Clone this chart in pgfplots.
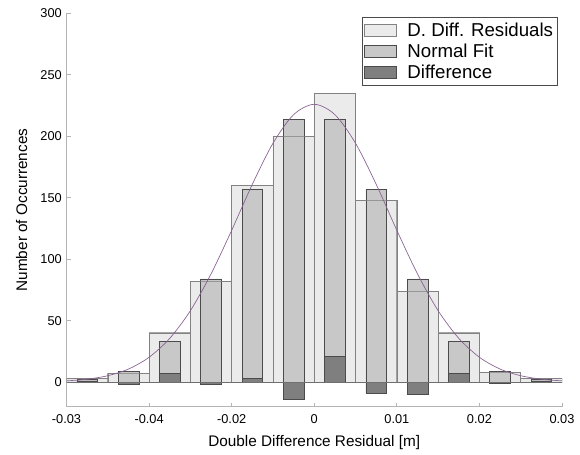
\documentclass[border=0pt]{standalone}
\usepackage{fontspec}
\setmainfont{Liberation Sans}
\usepackage{pgfplots}
\pgfplotsset{compat=1.18}

\definecolor{resfill}{RGB}{235,235,235}
\definecolor{resedge}{RGB}{130,130,130}
\definecolor{fitfill}{RGB}{200,200,200}
\definecolor{fitedge}{RGB}{75,75,75}
\definecolor{difffill}{RGB}{127,127,127}
\definecolor{axisgray}{RGB}{180,180,180}
\definecolor{curvecol}{RGB}{135,95,145}

% bin centres, residual histogram, normal fit and difference
\pgfplotstableread{
x        res  fit  diff
-0.0275  3    2    1
-0.0225  7    9    -2
-0.0175  40   33   7
-0.0125  82   84   -2
-0.0075  160  157  3
-0.0025  200  214  -14
0.0025   235  214  21
0.0075   148  157  -9
0.0125   74   84   -10
0.0175   40   33   7
0.0225   8    9    -1
0.0275   3    2    1
}\hist

\begin{document}
\begin{tikzpicture}
\begin{axis}[
    scale only axis,
    width=371.6pt,
    height=295pt,
    xmin=-0.03, xmax=0.03,
    ymin=-20, ymax=300,
    axis x line*=bottom,
    axis y line*=left,
    axis line style={draw=axisgray, line width=1.1pt, -},
    xtick={-0.03,-0.02,-0.01,0,0.01,0.02,0.03},
    xticklabels={-0.03,-0.04,-0.02,0,0.01,0.02,0.03},
    scaled x ticks=false,
    ytick={0,50,100,150,200,250,300},
    /pgf/number format/assume math mode=true,
    tick align=inside,
    major tick length=3pt,
    tick style={draw=axisgray, line width=0.6pt},
    tick label style={font=\fontsize{9.6}{11}\selectfont},
    xticklabel style={yshift=-2.5pt},
    label style={font=\fontsize{11.5}{13}\selectfont},
    xlabel={Double Difference Residual [m]},
    xlabel style={yshift=-2pt},
    ylabel={Number of Occurrences},
    ylabel style={yshift=3pt},
    legend style={at={(1,1)}, anchor=north east, xshift=-3pt, yshift=-3pt,
        draw=fitedge, font=\fontsize{14}{16}\selectfont, row sep=0pt,
        inner xsep=1.5pt, inner ysep=2pt},
    legend cell align=left,
    legend image code/.code={
        \draw[#1,/tikz/.cd,bar width=0pt,bar shift=0pt]
            (0pt,-4.5pt) rectangle (24pt,4.5pt);
        \path (30pt,0pt);},
]
% residual histogram
\addplot[ybar, bar width=0.005, bar shift=0pt, fill=resfill, draw=resedge]
    table[x=x, y=res] {\hist};
% normal fit bars
\addplot[ybar, bar width=0.0025, bar shift=0pt, fill=fitfill, draw=fitedge]
    table[x=x, y=fit] {\hist};
% difference bars
\addplot[ybar, bar width=0.0025, bar shift=0pt, fill=difffill, draw=fitedge]
    table[x=x, y=diff] {\hist};
\legend{D. Diff. Residuals, Normal Fit, Difference}
% outlines of histogram on top
\addplot[forget plot, ybar, bar width=0.005, bar shift=0pt, fill=none,
    draw=resedge, draw opacity=0.7, line width=0.7pt]
    table[x=x, y=res] {\hist};
\addplot[forget plot, draw=fitedge!80, line width=0.6pt]
    coordinates {(-0.03,0) (0.03,0)};
% normal curve
\addplot[forget plot, smooth, draw=curvecol, line width=0.5pt] coordinates {
    (-0.03,1.0) (-0.0275,2.35) (-0.025,5.2) (-0.0225,10.6) (-0.02,20.2)
    (-0.0175,35.6) (-0.015,58.1) (-0.0125,88.0) (-0.01,123.5) (-0.0075,160.9)
    (-0.005,194.3) (-0.0025,217.6) (0,226) (0.0025,217.6) (0.005,194.3)
    (0.0075,160.9) (0.01,123.5) (0.0125,88.0) (0.015,58.1) (0.0175,35.6)
    (0.02,20.2) (0.0225,10.6) (0.025,5.2) (0.0275,2.35) (0.03,1.0)
};
\end{axis}
\path ([xshift=-49.9pt,yshift=-36.2pt]current axis.south west)
    rectangle ([xshift=13.5pt,yshift=10pt]current axis.north east);
\end{tikzpicture}
\end{document}
